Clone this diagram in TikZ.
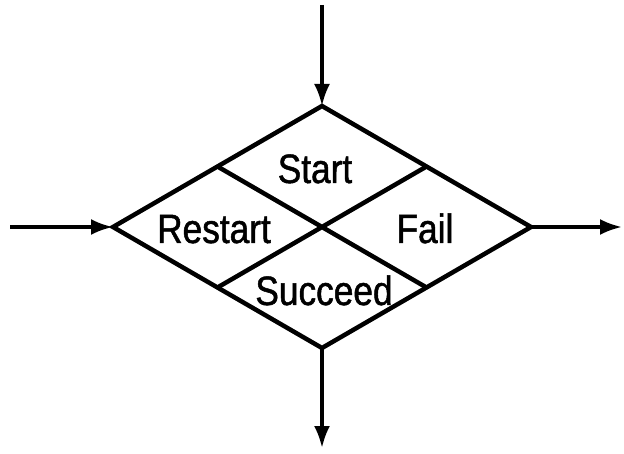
\documentclass[tikz,border=0pt]{standalone}
\usepackage{fontspec}
\setmainfont{Liberation Sans}
\newfontfamily\lblfont[FakeStretch=0.86,FakeBold=1.2]{Liberation Sans}
\usetikzlibrary{arrows.meta,calc}
\begin{document}
\begin{tikzpicture}[x=1pt,y=-1pt,
  edge/.style={line width=4.5pt,line join=miter},
  flow/.style={line width=3.5pt,-{Latex[length=22pt,width=16pt]}},
  lbl/.style={anchor=base,inner sep=0pt,font=\lblfont\fontsize{41}{44}\selectfont}]
\useasboundingbox (0,0) rectangle (624,454);
\coordinate (T) at (322,106);
\coordinate (L) at (113,227);
\coordinate (R) at (531,227);
\coordinate (B) at (322,348);
\coordinate (TL) at ($(T)!0.5!(L)$);
\coordinate (TR) at ($(T)!0.5!(R)$);
\coordinate (BL) at ($(B)!0.5!(L)$);
\coordinate (BR) at ($(B)!0.5!(R)$);
\coordinate (inT) at (322,5);
\coordinate (inL) at (10,227);
\coordinate (outR) at (622,227);
\coordinate (outB) at (322,448);
\draw[edge] (T) -- (R) -- (B) -- (L) -- cycle;
\draw[edge] (TL) -- (BR);
\draw[edge] (TR) -- (BL);
\draw[flow] (inT) -- (T);
\draw[flow] (inL) -- (L);
\draw[flow] (R) -- (outR);
\draw[flow] (B) -- (outB);
\node[lbl] (start) at (315,183) {Start};
\node[lbl] (restart) at (214,243) {Restart};
\node[lbl] (fail) at (425,243) {Fail};
\node[lbl] (succeed) at (324,305) {Succeed};
\end{tikzpicture}
\end{document}
